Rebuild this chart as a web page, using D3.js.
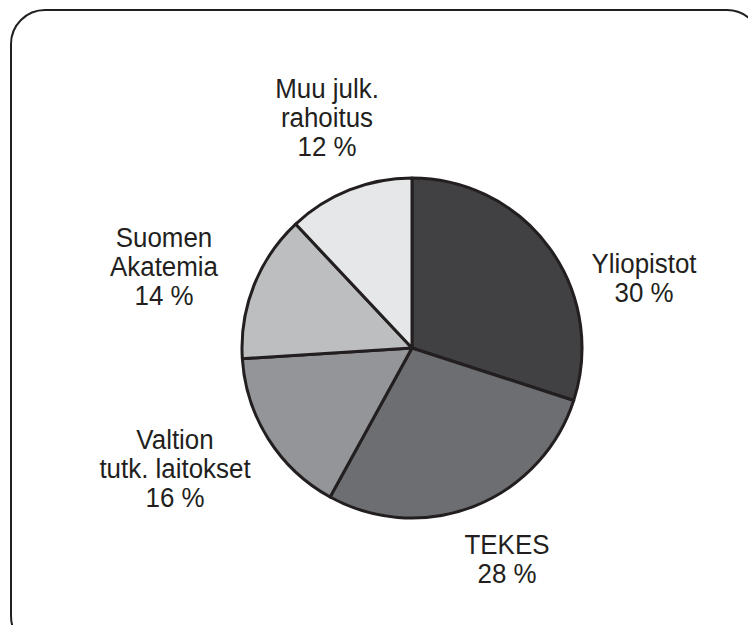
<!DOCTYPE html>
<html>
<head>
<meta charset="utf-8">
<script src="https://cdn.jsdelivr.net/npm/d3@7"></script>
<style>
  body { margin: 0; background: #fff; }
  text { font-family: "Liberation Sans", Arial, sans-serif; fill: #231f20; }
</style>
</head>
<body>
<div id="chart"></div>
<script>
// data
const categories = ["Yliopistot", "TEKES", "Valtion tutk. laitokset", "Suomen Akatemia", "Muu julk. rahoitus"]
const values = [30, 28, 16, 14, 12]
const labelLines = [["Yliopistot"], ["TEKES"], ["Valtion", "tutk. laitokset"], ["Suomen", "Akatemia"], ["Muu julk.", "rahoitus"]]
const colors = ["#414042", "#6d6e71", "#939598", "#bcbec0", "#e6e7e8"]

const width = 748
const height = 625
const cx = 412, cy = 348, radius = 170

// label anchor (centre x, first baseline) per slice
const labelPos = [[644, 273], [507, 554], [175, 449], [164, 247], [327, 98]]
const lineH = 29

const svg = d3.select("#chart").append("svg").attr("width", width).attr("height", height)

// rounded frame, partly off the page
svg.append("rect")
    .attr("x", 11).attr("y", 10)
    .attr("width", 750).attr("height", 640)
    .attr("rx", 34).attr("ry", 34)
    .attr("fill", "none").attr("stroke", "#231f20").attr("stroke-width", 2)

const data = categories.map((c, i) => ({ name: c, value: values[i], lines: labelLines[i], color: colors[i], pos: labelPos[i] }))

const pie = d3.pie().value(d => d.value).sort(null)
const arc = d3.arc().innerRadius(0).outerRadius(radius)

const g = svg.append("g").attr("transform", `translate(${cx},${cy})`)

g.selectAll("path").data(pie(data)).enter().append("path")
    .attr("d", arc)
    .attr("fill", d => d.data.color)
    .attr("stroke", "#231f20")
    .attr("stroke-width", 3)
    .attr("stroke-linejoin", "round")

// labels: slightly narrowed sans to look like the condensed original
const labels = svg.selectAll("text.lbl").data(data).enter().append("text")
    .attr("class", "lbl")
    .attr("text-anchor", "middle")
    .attr("font-size", 27)
    .attr("transform", d => `translate(${d.pos[0]},${d.pos[1]}) scale(0.96,1)`)

labels.each(function(d) {
    const t = d3.select(this)
    const rows = d.lines.concat([d.value + " %"])
    rows.forEach((r, k) => {
        t.append("tspan").attr("x", 0).attr("y", k * lineH).text(r)
    })
})
</script>
</body>
</html>
